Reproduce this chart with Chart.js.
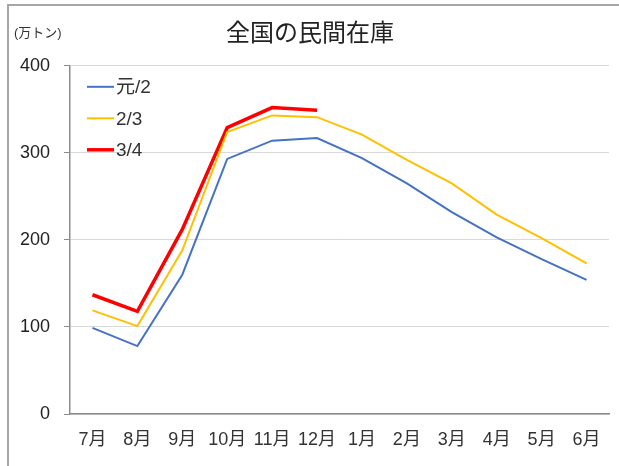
<!DOCTYPE html>
<html>
<head>
<meta charset="utf-8">
<script src="https://cdn.jsdelivr.net/npm/chart.js@4/dist/chart.umd.min.js"></script>
<style>
  body { margin: 0; background: #fff; overflow: hidden; }
  #wrap { position: relative; width: 619px; height: 466px; overflow: hidden; }
  #frame { position: absolute; left: 7px; top: 4px; width: 610px; height: 460px;
           border-left: 2px solid #a6a6a6; border-top: 2px solid #a6a6a6; }
  #myChart { position: absolute; left: 0; top: 0; }
</style>
</head>
<body>
<div id="wrap">
  <div id="frame"></div>
  <canvas id="myChart" width="619" height="466"></canvas>
</div>
<script>
const months = ["7月", "8月", "9月", "10月", "11月", "12月", "1月", "2月", "3月", "4月", "5月", "6月"];
const stock_r1 = [99, 78, 160, 293, 314, 317, 294, 265, 232, 203, 178, 154];
const stock_r2 = [119, 101, 188, 324, 343, 341, 321, 292, 265, 229, 202, 173];
const stock_r3 = [137, 118, 212, 329, 352, 349, null, null, null, null, null, null];
const yTicks = [0, 100, 200, 300, 400];

const FONT = '"Liberation Sans", "Noto Sans CJK JP", sans-serif';

// legend drawn inside the plot, top-left, plus the unit label
const extras = {
    id: 'extras',
    afterDraw(chart) {
        const ctx = chart.ctx;
        const area = chart.chartArea;
        ctx.save();
        ctx.fillStyle = '#333';
        ctx.font = '13px ' + FONT;
        ctx.textBaseline = 'middle';
        ctx.textAlign = 'left';
        ctx.fillText('(万トン)', 14, 33);

        ctx.font = '19px ' + FONT;
        chart.data.datasets.forEach((ds, i) => {
            const y = area.top + 21 + i * 31.5;
            ctx.strokeStyle = ds.borderColor;
            ctx.lineWidth = ds.borderWidth;
            ctx.beginPath();
            ctx.moveTo(area.left + 17, y);
            ctx.lineTo(area.left + 44, y);
            ctx.stroke();
            ctx.fillStyle = '#333';
            ctx.fillText(ds.label, area.left + 46, y + 1);
        });
        ctx.restore();
    }
};

new Chart(document.getElementById("myChart"), {
    type: 'line',
    data: {
        labels: months,
        datasets: [
            { label: "元/2", data: stock_r1, borderColor: '#4472C4', borderWidth: 2 },
            { label: "2/3", data: stock_r2, borderColor: '#FFC000', borderWidth: 2 },
            { label: "3/4", data: stock_r3, borderColor: '#FF0000', borderWidth: 3.5 }
        ]
    },
    options: {
        responsive: false,
        animation: false,
        layout: { padding: { left: 11, right: 10, top: 0, bottom: 14 } },
        elements: { point: { radius: 0 }, line: { tension: 0 } },
        plugins: {
            legend: { display: false },
            tooltip: { enabled: false },
            title: {
                display: true,
                text: '全国の民間在庫',
                color: '#222',
                font: { family: FONT, size: 24, weight: 'normal' },
                padding: { top: 20, bottom: 17 }
            }
        },
        scales: {
            x: {
                offset: true,
                afterFit: axis => { axis.height = 38; },
                grid: { display: false, drawTicks: false, tickLength: 0 },
                border: { color: '#8c8c8c', width: 1.5 },
                ticks: { color: '#333', padding: 15, maxRotation: 0, autoSkip: false,
                         font: { family: FONT, size: 18 } }
            },
            y: {
                min: 0,
                max: 400,
                afterBuildTicks: axis => { axis.ticks = yTicks.map(v => ({ value: v })); },
                afterFit: axis => { axis.width = 59; },
                grid: { color: '#d9d9d9', tickColor: '#8c8c8c', tickLength: 6 },
                border: { color: '#8c8c8c', width: 1.5 },
                ticks: { color: '#222', padding: 14, font: { family: FONT, size: 18 } }
            }
        }
    },
    plugins: [extras]
});
</script>
</body>
</html>
